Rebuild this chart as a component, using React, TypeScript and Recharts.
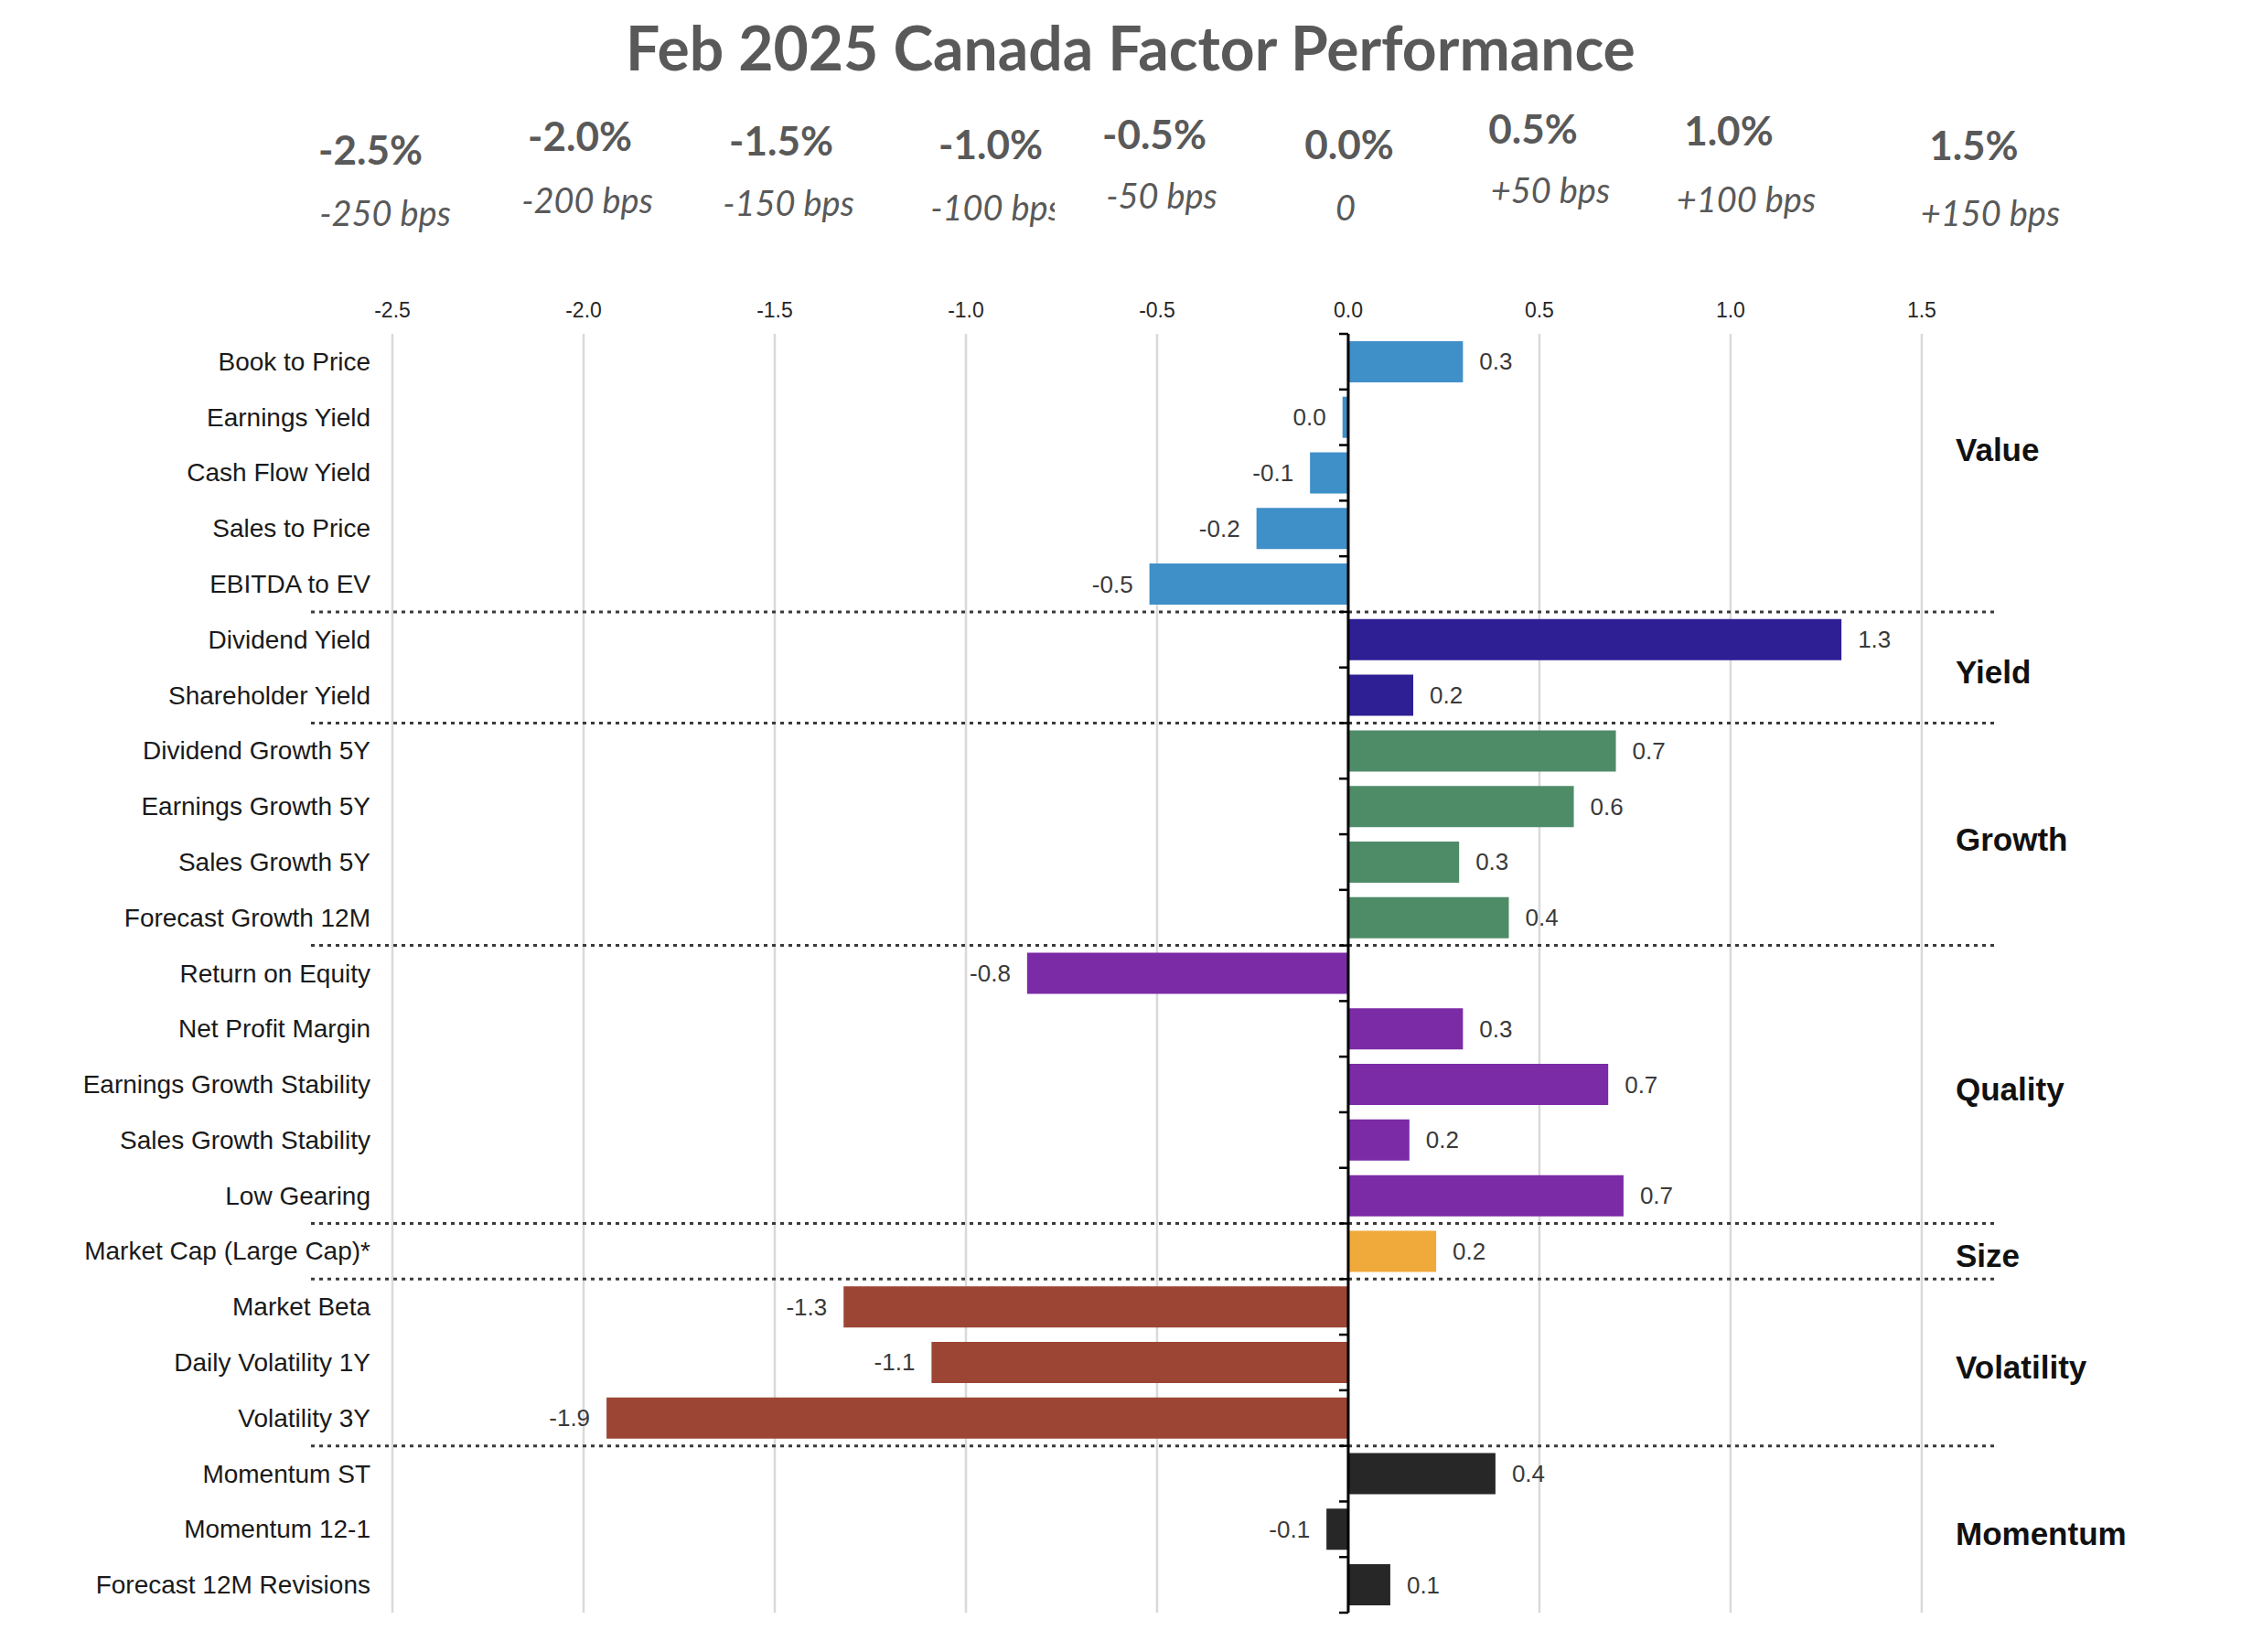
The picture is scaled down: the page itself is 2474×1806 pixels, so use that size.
import React from "react";
import {
  BarChart,
  Bar,
  XAxis,
  YAxis,
  CartesianGrid,
  ReferenceLine,
  Cell,
  LabelList,
} from "recharts";

// ---- data ----
const factors = [
  "Book to Price",
  "Earnings Yield",
  "Cash Flow Yield",
  "Sales to Price",
  "EBITDA to EV",
  "Dividend Yield",
  "Shareholder Yield",
  "Dividend Growth 5Y",
  "Earnings Growth 5Y",
  "Sales Growth 5Y",
  "Forecast Growth 12M",
  "Return on Equity",
  "Net Profit Margin",
  "Earnings Growth Stability",
  "Sales Growth Stability",
  "Low Gearing",
  "Market Cap (Large Cap)*",
  "Market Beta",
  "Daily Volatility 1Y",
  "Volatility 3Y",
  "Momentum ST",
  "Momentum 12-1",
  "Forecast 12M Revisions",
];

const returns = [
  0.3, -0.015, -0.1, -0.24, -0.52, 1.29, 0.17, 0.7, 0.59, 0.29, 0.42, -0.84, 0.3, 0.68,
  0.16, 0.72, 0.23, -1.32, -1.09, -1.94, 0.385, -0.057, 0.11,
];

const groups = ["Value", "Yield", "Growth", "Quality", "Size", "Volatility", "Momentum"];
const groupSizes = [5, 2, 4, 5, 1, 3, 3];

const axisTicks = [-2.5, -2.0, -1.5, -1.0, -0.5, 0.0, 0.5, 1.0, 1.5];
const pctLabels = ["-2.5%", "-2.0%", "-1.5%", "-1.0%", "-0.5%", "0.0%", "0.5%", "1.0%", "1.5%"];
const bpsLabels = [
  "-250 bps",
  "-200 bps",
  "-150 bps",
  "-100 bps",
  "-50 bps",
  "0",
  "+50 bps",
  "+100 bps",
  "+150 bps",
];

// ---- styles / layout ----
const groupColors: Record<string, string> = {
  Value: "#3f8fc8",
  Yield: "#2e1f94",
  Growth: "#4e8c68",
  Quality: "#7b2ba6",
  Size: "#f0a93b",
  Volatility: "#9c4535",
  Momentum: "#272727",
};

// header text offsets from tick position (dx) and absolute baselines
const pctDx = [-24, -4, 7, 27, -3, 1, -7, -2, 57];
const pctBase = [180, 165, 170, 174, 163, 174, 157, 159, 175];
const bpsDx = [-8, 4, 15, 33, 5, -3, 12, 17, 75];
const bpsBase = [247, 233, 236, 241, 228, 241, 222, 232, 247];

const ARIAL = "'Liberation Sans', Arial, sans-serif";
const CALIBRI = "Lato, 'Open Sans', sans-serif";

// expand group data per row
const rowGroup: string[] = [];
groups.forEach((g, i) => {
  for (let k = 0; k < groupSizes[i]; k++) rowGroup.push(g);
});

const data = factors.map((name, i) => ({ name, value: returns[i], group: rowGroup[i] }));

const groupStarts: number[] = [];
groupSizes.reduce((acc, n) => {
  groupStarts.push(acc);
  return acc + n;
}, 0);
const separators = groupStarts.slice(1);

// where each group's label sits: a row and the band position within it
const groupLabelRow = groups.map((g, i) => {
  const size = groupSizes[i];
  if (g === "Value") return { row: groupStarts[i] + 2, pos: "start" as const };
  return {
    row: groupStarts[i] + Math.floor(size / 2),
    pos: size % 2 === 0 ? ("start" as const) : ("middle" as const),
  };
});

const fmt = (v: number) => {
  const s = v.toFixed(1);
  return s === "-0.0" ? "0.0" : s;
};

const CategoryTick = (props: any) => {
  const { x, y, payload } = props;
  return (
    <text
      x={x + 65}
      y={y}
      textAnchor="end"
      dominantBaseline="central"
      fontFamily={ARIAL}
      fontSize={28}
      fill="#1a1a1a"
    >
      {payload.value}
    </text>
  );
};

const ValueLabel = (props: any) => {
  const { x, y, width, height, value } = props;
  const x0 = Number(x);
  const w = Number(width);
  const left = Math.min(x0, x0 + w);
  const right = Math.max(x0, x0 + w);
  const pos = value >= 0;
  return (
    <text
      x={pos ? right + 18 : left - 18}
      y={Number(y) + Number(height) / 2}
      textAnchor={pos ? "start" : "end"}
      dominantBaseline="central"
      fontFamily={ARIAL}
      fontSize={26}
      fill="#3a3a3a"
    >
      {fmt(value)}
    </text>
  );
};

// grid only at the labelled ticks, not at the domain edges
const gridX = (props: any) => {
  const scale = props?.xAxis?.scale;
  if (!scale) return [];
  const fn = typeof scale === "function" ? scale : scale.map ?? scale.scale;
  return axisTicks.map((t) => fn(t));
};

export default function App() {
  return (
    <div style={{ position: "absolute", left: 0, top: 0, width: 2474, height: 1806, background: "#fff" }}>
      <svg width={2474} height={110} style={{ position: "absolute", left: 0, top: 0 }}>
        <text
          x={1236}
          y={77}
          textAnchor="middle"
          fontFamily={CALIBRI}
          fontWeight={700}
          fontSize={66}
          fill="#595959"
        >
          Feb 2025 Canada Factor Performance
        </text>
      </svg>
      <BarChart
        width={2474}
        height={1806}
        data={data}
        layout="vertical"
        barCategoryGap="13%"
        margin={{ top: 325, right: 292, bottom: 43, left: 240 }}
      >
        <CartesianGrid
          horizontal={false}
          stroke="#d9d9d9"
          strokeWidth={2.5}
          verticalCoordinatesGenerator={gridX}
        />
        <XAxis
          type="number"
          orientation="top"
          domain={[-2.713, 1.694]}
          ticks={axisTicks}
          interval={0}
          allowDataOverflow
          tickFormatter={(v: number) => v.toFixed(1)}
          axisLine={false}
          tickLine={false}
          tickSize={0}
          tickMargin={18}
          height={40}
          tick={{ fontSize: 23, fill: "#262626", fontFamily: ARIAL }}
        />
        <YAxis
          type="category"
          dataKey="name"
          width={100}
          axisLine={false}
          tickLine={false}
          tickSize={0}
          tickMargin={0}
          interval={0}
          tick={<CategoryTick />}
        />

        {separators.map((s) => (
          <ReferenceLine
            key={`sep-${s}`}
            y={factors[s]}
            position="start"
            stroke="#3a3a3a"
            strokeWidth={3}
            strokeDasharray="4 5"
          />
        ))}

        <Bar dataKey="value" isAnimationActive={false}>
          {data.map((d) => (
            <Cell key={d.name} fill={groupColors[d.group]} />
          ))}
          <LabelList dataKey="value" content={<ValueLabel />} />
        </Bar>

        <ReferenceLine x={0} stroke="#000" strokeWidth={3} />
        {factors.map((f) => (
          <ReferenceLine
            key={`tk-${f}`}
            position="start"
            segment={[
              { x: -0.024, y: f },
              { x: 0, y: f },
            ]}
            stroke="#000"
            strokeWidth={2.5}
          />
        ))}
        <ReferenceLine
          position="end"
          segment={[
            { x: -0.024, y: factors[factors.length - 1] },
            { x: 0, y: factors[factors.length - 1] },
          ]}
          stroke="#000"
          strokeWidth={2.5}
        />

        {groups.map((g, i) => (
          <ReferenceLine
            key={`grp-${g}`}
            y={factors[groupLabelRow[i].row]}
            position={groupLabelRow[i].pos}
            stroke="none"
            label={(p: any) => (
              <text
                x={p.viewBox.x + p.viewBox.width - 44}
                y={p.viewBox.y + 5}
                dominantBaseline="central"
                fontFamily={ARIAL}
                fontWeight={700}
                fontSize={35}
                fill="#111"
              >
                {g}
              </text>
            )}
          />
        ))}

        {axisTicks.map((t, i) => (
          <ReferenceLine
            key={`hdr-${i}`}
            x={t}
            stroke="none"
            label={(p: any) => {
              const cx = p.viewBox.x;
              const clipId = `clip-hdr-${i}`;
              return (
                <g>
                  {i === 3 && (
                    <defs>
                      <clipPath id={clipId}>
                        <rect x={cx - 200} y={190} width={297} height={80} />
                      </clipPath>
                    </defs>
                  )}
                  <text
                    x={cx + pctDx[i]}
                    y={pctBase[i]}
                    textAnchor="middle"
                    fontFamily={CALIBRI}
                    fontWeight={700}
                    fontSize={44}
                    fill="#595959"
                  >
                    {pctLabels[i]}
                  </text>
                  <text
                    x={cx + bpsDx[i]}
                    y={bpsBase[i]}
                    textAnchor="middle"
                    fontFamily={CALIBRI}
                    fontStyle="italic"
                    fontSize={38}
                    fill="#595959"
                    clipPath={i === 3 ? `url(#${clipId})` : undefined}
                  >
                    {bpsLabels[i]}
                  </text>
                </g>
              );
            }}
          />
        ))}
      </BarChart>
    </div>
  );
}
